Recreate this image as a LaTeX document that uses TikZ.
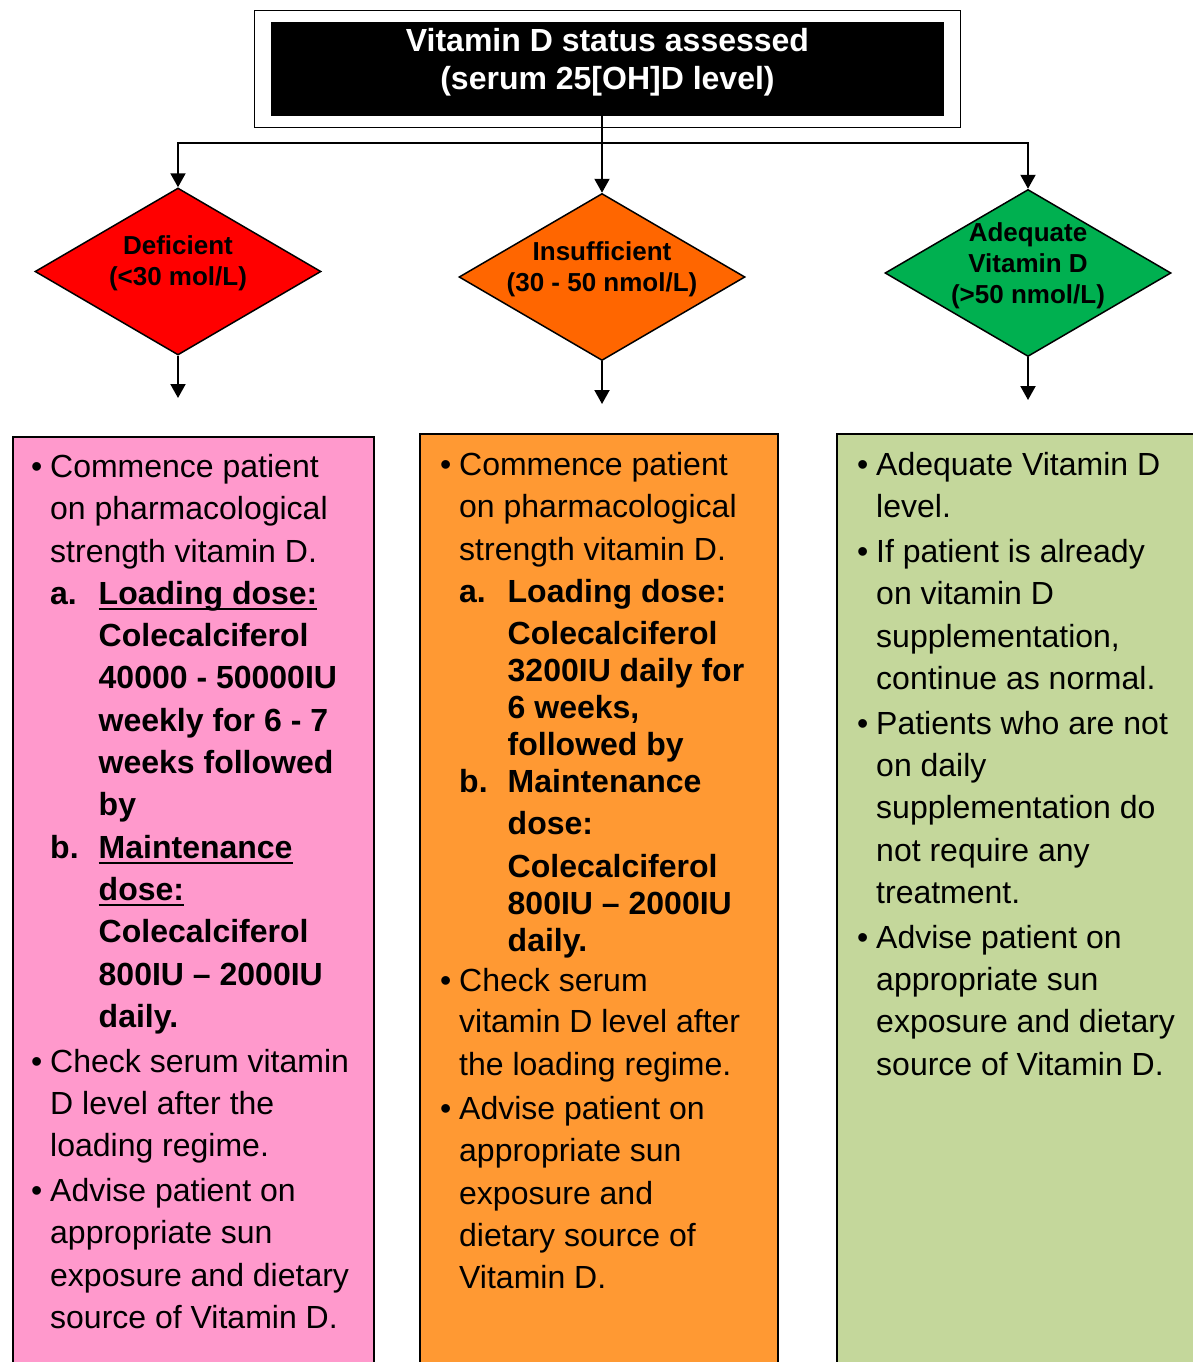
\documentclass[tikz,border=0pt]{standalone}
\usepackage{fontspec}
\setmainfont{Liberation Sans}
\usetikzlibrary{arrows.meta, shapes.geometric, fit}

\definecolor{defred}{HTML}{FF0000}
\definecolor{insorange}{HTML}{FF6600}
\definecolor{adqgreen}{HTML}{00B050}
\definecolor{defpink}{HTML}{FF99CC}
\definecolor{inslight}{HTML}{FF9933}
\definecolor{adqlight}{HTML}{C4D79B}

% list helpers: bullet column, hanging indent, item label column
\newcommand{\bul}{\makebox[19pt][l]{\textbullet}}
\newcommand{\ind}{\hspace*{19pt}}
\newcommand{\lbl}[1]{\makebox[48.5pt][l]{\textbf{#1}}}
\newsavebox{\undlbox}
\newcommand{\undl}[1]{\sbox{\undlbox}{#1}\rlap{\rule[-6pt]{\wd\undlbox}{2.5pt}}\usebox{\undlbox}}

\begin{document}
\begin{tikzpicture}[
    x=1pt, y=-1pt,
    % black header box for the assessment step
    status/.style={fill=black, minimum width=673pt, minimum height=94pt, inner sep=0pt},
    hdlabel/.style={font=\fontsize{32}{38}\selectfont\bfseries, text=white, align=center},
    % status decisions
    decision/.style={diamond, draw, line width=1.5pt, minimum width=286pt,
                     minimum height=167pt, inner sep=0pt},
    dlabel/.style={font=\fontsize{26}{31}\selectfont\bfseries, align=center},
    % action panels, open at the bottom of the page
    panel/.style={draw, line width=1.5pt, anchor=north west, inner sep=0pt},
    paneltext/.style={anchor=north west, align=left, inner sep=0pt,
                      font=\fontsize{32}{42.3}\selectfont},
    arrow/.style={-{Triangle[width=15pt,length=14pt]}, line width=2pt}
]
\useasboundingbox (0,0) rectangle (1193,1362);
\clip (0,0) rectangle (1193,1362);

\node[status, label={[hdlabel, yshift=7pt]center:{Vitamin D status assessed\\(serum 25[OH]D level)}}] (assess) at (607.5,69) {};
\node[draw, line width=1.3pt, fit=(assess), inner xsep=16.5pt, inner ysep=11.5pt] (frame) {};

\node[decision, fill=defred, label={[dlabel, yshift=8pt]center:{Deficient\\(<30 mol/L)}}] (defic) at (178,271.5) {};
\node[decision, fill=insorange, label={[dlabel, yshift=8pt]center:{Insufficient\\(30 - 50 nmol/L)}}] (insuf) at (602,277) {};
\node[decision, fill=adqgreen, label={[dlabel, yshift=7pt]center:{Adequate\\Vitamin D\\(>50 nmol/L)}}] (adeq) at (1028,273) {};

\coordinate (bus) at (602,143);
\coordinate (defend) at (178,398);
\coordinate (insend) at (602,404);
\coordinate (adqend) at (1028,400);

\node[panel, fill=defpink, minimum width=361pt, minimum height=950pt] (defbox) at (12,436) {};
\node[panel, fill=inslight, minimum width=358pt, minimum height=950pt] (insbox) at (419,433) {};
\node[panel, fill=adqlight, minimum width=370pt, minimum height=950pt] (adqbox) at (836,433) {};

\node[paneltext] (deftxt) at ([shift={(19,18)}]defbox.north west) {%
\bul Commence patient\\
\ind on pharmacological\\
\ind strength vitamin D.\\
\ind\lbl{a.}\textbf{\undl{Loading dose:}}\\
\ind\lbl{}\textbf{Colecalciferol}\\
\ind\lbl{}\textbf{40000 - 50000IU}\\
\ind\lbl{}\textbf{weekly for 6 - 7}\\
\ind\lbl{}\textbf{weeks followed}\\
\ind\lbl{}\textbf{by}\\
\ind\lbl{b.}\textbf{\undl{Maintenance}}\\
\ind\lbl{}\textbf{\undl{dose:}}\\
\ind\lbl{}\textbf{Colecalciferol}\\
\ind\lbl{}\textbf{800IU – 2000IU}\\
\ind\lbl{}\textbf{daily.}\\[2.5pt]
\bul Check serum vitamin\\
\ind D level after the\\
\ind loading regime.\\[2.5pt]
\bul Advise patient on\\
\ind appropriate sun\\
\ind exposure and dietary\\
\ind source of Vitamin D.};

\node[paneltext] (instxt) at ([shift={(21,19)}]insbox.north west) {%
\bul Commence patient\\
\ind on pharmacological\\
\ind strength vitamin D.\\
\ind\lbl{a.}\textbf{Loading dose:}\\
\ind\lbl{}\textbf{Colecalciferol}\\[-5.3pt]
\ind\lbl{}\textbf{3200IU daily for}\\[-5.3pt]
\ind\lbl{}\textbf{6 weeks,}\\[-5.3pt]
\ind\lbl{}\textbf{followed by}\\[-5.3pt]
\ind\lbl{b.}\textbf{Maintenance}\\
\ind\lbl{}\textbf{dose:}\\
\ind\lbl{}\textbf{Colecalciferol}\\[-5.3pt]
\ind\lbl{}\textbf{800IU – 2000IU}\\[-5.3pt]
\ind\lbl{}\textbf{daily.}\\[-2pt]
\bul Check serum\\[-1pt]
\ind vitamin D level after\\
\ind the loading regime.\\[2pt]
\bul Advise patient on\\
\ind appropriate sun\\
\ind exposure and\\
\ind dietary source of\\
\ind Vitamin D.};

\node[paneltext] (adqtxt) at ([shift={(21,19)}]adqbox.north west) {%
\bul Adequate Vitamin D\\
\ind level.\\[2.5pt]
\bul If patient is already\\
\ind on vitamin D\\
\ind supplementation,\\
\ind continue as normal.\\[2.5pt]
\bul Patients who are not\\
\ind on daily\\
\ind supplementation do\\
\ind not require any\\
\ind treatment.\\[2.5pt]
\bul Advise patient on\\
\ind appropriate sun\\
\ind exposure and dietary\\
\ind source of Vitamin D.};

\draw[arrow] (assess.south -| bus) -- (insuf.north);
\draw[arrow] (assess.south -| bus) -- (bus) -| (defic.north);
\draw[arrow] (bus) -| (adeq.north);
\draw[arrow] (defic.south) -- (defend);
\draw[arrow] (insuf.south) -- (insend);
\draw[arrow] (adeq.south) -- (adqend);
\end{tikzpicture}
\end{document}
